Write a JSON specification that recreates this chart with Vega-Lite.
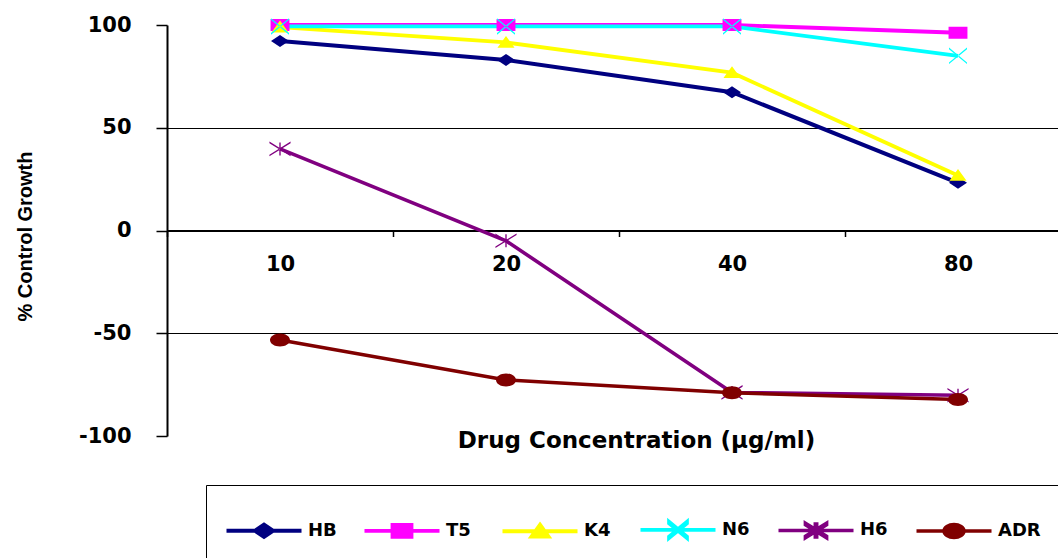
{
  "$schema": "https://vega.github.io/schema/vega-lite/v6.json",
  "autosize": {"type": "none"},
  "padding": {"left": 167, "top": 25, "right": 0, "bottom": 122},
  "width": 904,
  "height": 411,
  "background": "white",
  "config": {"view": {"stroke": null}, "font": "DejaVu Sans"},
  "data": {
    "values": [
      {"conc": "10", "series": "HB", "value": 92.2},
      {"conc": "20", "series": "HB", "value": 83},
      {"conc": "40", "series": "HB", "value": 67.3},
      {"conc": "80", "series": "HB", "value": 23.2},
      {"conc": "10", "series": "T5", "value": 100},
      {"conc": "20", "series": "T5", "value": 100},
      {"conc": "40", "series": "T5", "value": 100},
      {"conc": "80", "series": "T5", "value": 96.2},
      {"conc": "10", "series": "K4", "value": 99},
      {"conc": "20", "series": "K4", "value": 91.5},
      {"conc": "40", "series": "K4", "value": 76.8},
      {"conc": "80", "series": "K4", "value": 26.8},
      {"conc": "10", "series": "N6", "value": 99.3},
      {"conc": "20", "series": "N6", "value": 99.3},
      {"conc": "40", "series": "N6", "value": 99.3},
      {"conc": "80", "series": "N6", "value": 85},
      {"conc": "10", "series": "H6", "value": 39.7},
      {"conc": "20", "series": "H6", "value": -5},
      {"conc": "40", "series": "H6", "value": -78.8},
      {"conc": "80", "series": "H6", "value": -80.2},
      {"conc": "10", "series": "ADR", "value": -53.3},
      {"conc": "20", "series": "ADR", "value": -72.7},
      {"conc": "40", "series": "ADR", "value": -79},
      {"conc": "80", "series": "ADR", "value": -82.2}
    ]
  },
  "encoding": {
    "x": {
      "field": "conc",
      "type": "nominal",
      "sort": ["10", "20", "40", "80"],
      "scale": {"type": "band", "paddingInner": 0, "paddingOuter": 0},
      "axis": {
        "title": "Drug Concentration  (µg/ml)",
        "orient": "bottom",
        "offset": -205.5,
        "labelAngle": 0,
        "tickBand": "extent",
        "grid": false,
        "domainColor": "black",
        "domainWidth": 2,
        "tickColor": "black",
        "tickWidth": 1.5,
        "tickSize": 6,
        "labelFont": "DejaVu Sans",
        "labelFontWeight": "bold",
        "labelFontSize": 21,
        "labelColor": "black",
        "labelPadding": 17,
        "titleFont": "DejaVu Sans",
        "titleFontWeight": "bold",
        "titleFontSize": 23,
        "titleColor": "black",
        "titleX": 469,
        "titleY": 217,
        "titleBaseline": "alphabetic",
        "titleAlign": "center"
      }
    },
    "y": {
      "field": "value",
      "type": "quantitative",
      "scale": {"domain": [-100, 100], "nice": false, "zero": false},
      "axis": {
        "title": "% Control Growth",
        "values": [-100, -50, 0, 50, 100],
        "labelExpr": "'' + datum.value",
        "grid": true,
        "gridColor": "black",
        "gridWidth": 1,
        "gridOpacity": {"condition": {"test": "abs(datum.value) == 50", "value": 1}, "value": 0},
        "domainColor": "black",
        "domainWidth": 2,
        "tickColor": "black",
        "tickWidth": 1.5,
        "tickSize": 11,
        "labelPadding": 25,
        "labelFont": "DejaVu Sans",
        "labelFontWeight": "bold",
        "labelFontSize": 21,
        "labelColor": "black",
        "titleFont": "Liberation Sans",
        "titleFontWeight": "bold",
        "titleFontSize": 20,
        "titleColor": "black",
        "titleX": -142,
        "titleY": 211,
        "titleAngle": -90,
        "titleBaseline": "middle",
        "titleAlign": "center"
      }
    }
  },
  "layer": [
    {
      "mark": {"type": "line", "interpolate": "linear"},
      "encoding": {
        "color": {
          "field": "series",
          "type": "nominal",
          "scale": {
            "domain": ["HB", "T5", "K4", "N6", "H6", "ADR"],
            "range": ["#000080", "#FF00FF", "#FFFF00", "#00FFFF", "#800080", "#800000"]
          },
          "legend": {
            "orient": "none",
            "legendX": 39,
            "legendY": 460,
            "direction": "horizontal",
            "columns": 6,
            "gridAlign": "all",
            "title": null,
            "padding": 20,
            "strokeColor": "black",
            "fillColor": "white",
            "symbolSize": 2025,
            "symbolStrokeWidth": 2.5,
            "symbolOffset": 13.5,
            "labelOffset": 19.5,
            "columnPadding": 5,
            "labelFont": "DejaVu Sans",
            "labelFontWeight": "bold",
            "labelFontSize": 18,
            "labelColor": "black"
          }
        },
        "strokeWidth": {
          "field": "series",
          "type": "ordinal",
          "scale": {"domain": ["HB", "T5", "K4", "N6", "H6", "ADR"], "range": [4, 3.5, 4.5, 3.5, 2.5, 2.5]},
          "legend": null
        }
      }
    },
    {
      "mark": {"type": "point", "filled": true, "size": 2025, "opacity": 1},
      "encoding": {
        "fill": {
          "field": "series",
          "type": "nominal",
          "scale": {
            "domain": ["HB", "T5", "K4", "N6", "H6", "ADR"],
            "range": ["#000080", "#FF00FF", "#FFFF00", "#00FFFF", "#800080", "#800000"]
          },
          "legend": null
        },
        "shape": {
          "field": "series",
          "type": "nominal",
          "scale": {
            "domain": ["HB", "T5", "K4", "N6", "H6", "ADR"],
            "range": [
              "M-1.667,0H1.667M0,-0.267L0.4,0L0,0.267L-0.4,0Z",
              "M-1.667,0H1.667M-0.42,-0.267H0.42V0.267H-0.42Z",
              "M-1.667,0H1.667M0,-0.29L0.38,0.24H-0.38Z",
              "M-1.667,0H1.667M-0.4,-0.365L0.4,0.295L0.4,0.365L-0.4,-0.295ZM-0.4,0.365L0.4,-0.295L0.4,-0.365L-0.4,0.295Z",
              "M-1.667,0H1.667M-0.47,-0.325L0.47,0.255L0.47,0.325L-0.47,-0.255ZM-0.47,0.325L0.47,-0.255L0.47,-0.325L-0.47,0.255ZM-0.03,-0.29H0.03V0.29H-0.03Z",
              "M-1.667,0H1.667M-0.444,0A0.444,0.289 0 1,0 0.444,0A0.444,0.289 0 1,0 -0.444,0Z"
            ]
          },
          "legend": null
        }
      }
    }
  ]
}
